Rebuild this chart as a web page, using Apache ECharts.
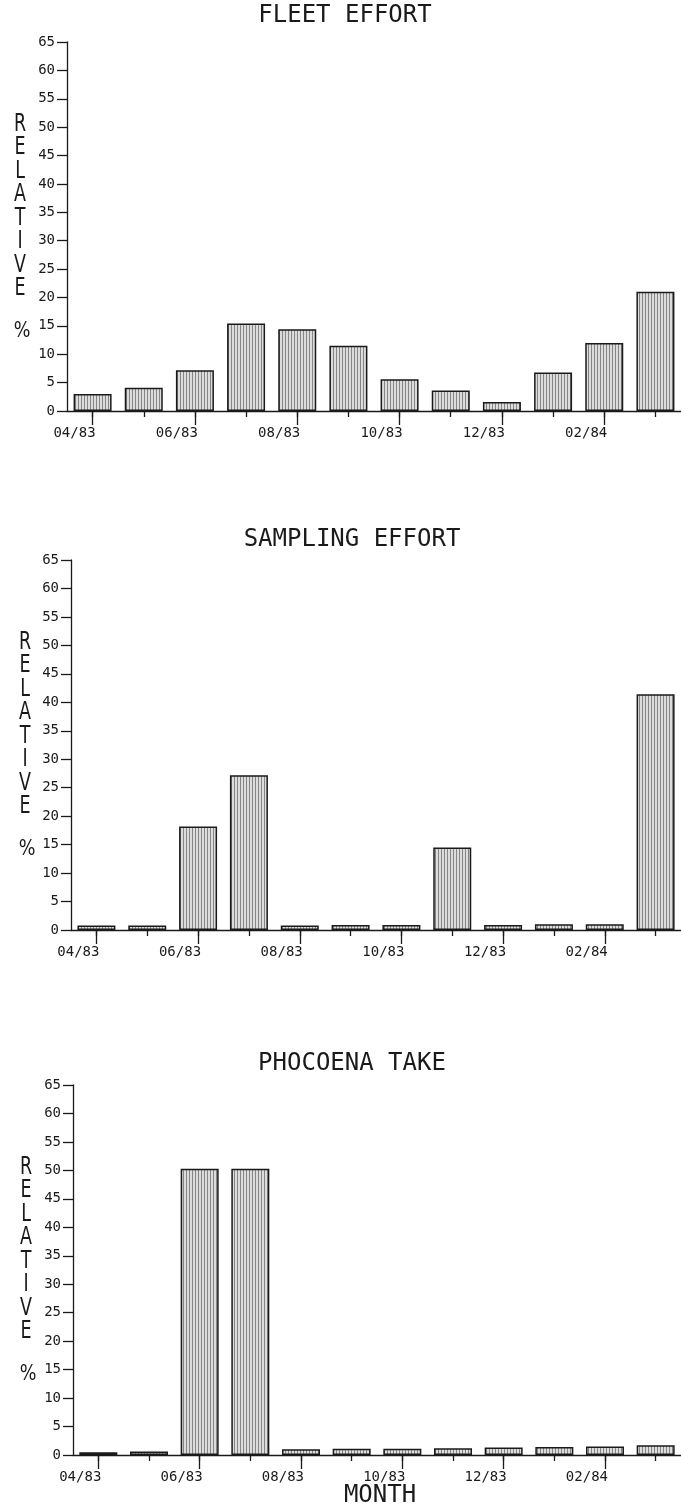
<!DOCTYPE html>
<html>
<head>
<meta charset="utf-8">
<script src="https://cdn.jsdelivr.net/npm/echarts@6/dist/echarts.min.js"></script>
<style>
html,body{margin:0;padding:0;background:#fff;}
#chart{width:681px;height:1512px;}
</style>
</head>
<body>
<div id="chart"></div>
<script>
// ---- data ----
const months = ['04/83','05/83','06/83','07/83','08/83','09/83','10/83','11/83','12/83','01/84','02/84','03/84'];
const fleetEffort    = [3.0, 4.1, 7.2, 15.4, 14.4, 11.5, 5.6, 3.6, 1.6, 6.8, 12.0, 21.0];
const samplingEffort = [0.8, 0.8, 18.2, 27.2, 0.8, 0.9, 0.9, 14.5, 0.9, 1.0, 1.0, 41.4];
const phocoenaTake   = [0.5, 0.6, 50.3, 50.3, 1.0, 1.1, 1.1, 1.2, 1.3, 1.4, 1.5, 1.7];
const panelTitles = ['FLEET EFFORT', 'SAMPLING EFFORT', 'PHOCOENA TAKE'];
const seriesList = [fleetEffort, samplingEffort, phocoenaTake];
const yMin = 0, yMax = 65, yStep = 5;
const yAxisLetters = 'RELATIVE';
const yAxisUnit = '%';
const xAxisTitle = 'MONTH';

// ---- layout ----
const layout = [
  {left: 67, right: -1, top: 42,   height: 369, titleX: 345, titleY: 16,   letterX: 20},
  {left: 71, right: -7, top: 560,  height: 370, titleX: 352, titleY: 540,  letterX: 25},
  {left: 73, right: -9, top: 1085, height: 370, titleX: 352, titleY: 1064, letterX: 26}
];

// hatched fill pattern (vertical lines)
const pc = document.createElement('canvas');
pc.width = 3; pc.height = 2;
const pctx = pc.getContext('2d');
pctx.fillStyle = '#dcdcdc'; pctx.fillRect(0, 0, 3, 2);
pctx.fillStyle = '#858585'; pctx.fillRect(0, 0, 1, 2);
const hatch = {image: pc, repeat: 'repeat'};

const ink = '#1a1a1a';
const monoFont = 'DejaVu Sans Mono';

const grids = [], xAxes = [], yAxes = [], series = [], graphics = [];
layout.forEach((L, i) => {
  grids.push({left: L.left, right: L.right, top: L.top, height: L.height, containLabel: false});
  // short ticks for every month + axis line
  xAxes.push({
    type: 'category', gridIndex: i, data: months, position: 'bottom',
    axisLine: {show: true, lineStyle: {color: ink, width: 1.3}},
    axisTick: {show: true, alignWithLabel: true, interval: 0, length: 6, lineStyle: {color: ink, width: 1.3}},
    axisLabel: {show: false}
  });
  // long ticks + labels every other month
  xAxes.push({
    type: 'category', gridIndex: i, data: months, position: 'bottom',
    axisLine: {show: false},
    axisTick: {show: true, alignWithLabel: true, interval: 1, length: 14, lineStyle: {color: ink, width: 1.3}},
    axisLabel: {show: true, interval: 1, align: 'right', margin: 15, color: ink,
      fontFamily: monoFont, fontSize: 14, padding: [0, -3, 0, 0]}
  });
  yAxes.push({
    type: 'value', gridIndex: i, min: yMin, max: yMax, interval: yStep,
    axisLine: {show: true, lineStyle: {color: ink, width: 1.3}},
    axisTick: {show: true, length: 10, lineStyle: {color: ink, width: 1.3}},
    splitLine: {show: false},
    axisLabel: {color: ink, fontFamily: monoFont, fontSize: 14, margin: 12}
  });
  series.push({
    type: 'bar', xAxisIndex: i * 2, yAxisIndex: i, data: seriesList[i],
    barWidth: 38, silent: true,
    itemStyle: {color: hatch, borderColor: ink, borderWidth: 1.5}
  });
  graphics.push({
    type: 'text', x: L.titleX, y: L.titleY, silent: true,
    style: {text: panelTitles[i], font: '24px ' + monoFont, fill: ink,
      textAlign: 'center', textVerticalAlign: 'middle'}
  });
  graphics.push({
    type: 'text', x: L.letterX, y: L.top + 82 - 11.75, scaleX: 0.7, silent: true,
    style: {text: yAxisLetters.split('').join('\n'), font: '25px DejaVu Sans', lineHeight: 23.5,
      fill: ink, textAlign: 'center', textVerticalAlign: 'top'}
  });
  graphics.push({
    type: 'text', x: L.letterX + 2, y: L.top + 289, scaleX: 0.8, silent: true,
    style: {text: yAxisUnit, font: '22px DejaVu Sans', fill: ink,
      textAlign: 'center', textVerticalAlign: 'middle'}
  });
});
graphics.push({
  type: 'text', x: 380, y: 1496, silent: true,
  style: {text: xAxisTitle, font: '24px ' + monoFont, fill: ink,
    textAlign: 'center', textVerticalAlign: 'middle'}
});

const chart = echarts.init(document.getElementById('chart'), null, {renderer: 'canvas'});
chart.setOption({
  backgroundColor: '#ffffff',
  animation: false,
  grid: grids,
  xAxis: xAxes,
  yAxis: yAxes,
  series: series,
  graphic: graphics
});
</script>
</body>
</html>
